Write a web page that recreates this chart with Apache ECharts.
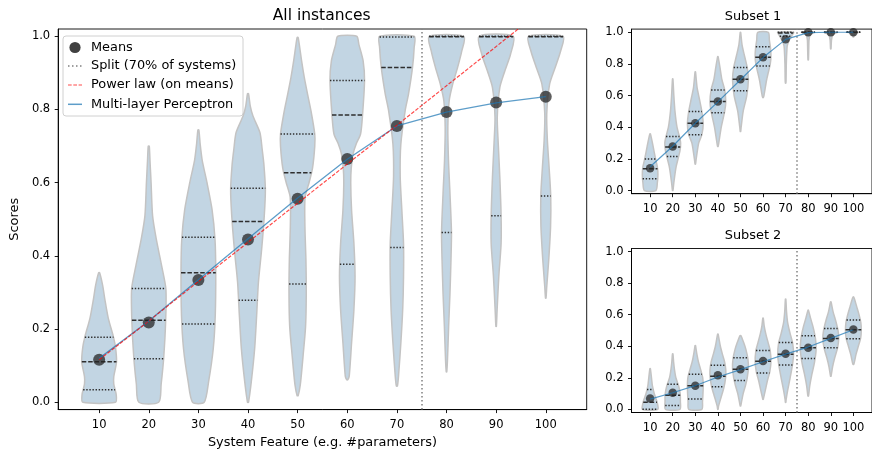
<!DOCTYPE html>
<html><head><meta charset="utf-8">
<script src="https://cdn.jsdelivr.net/npm/echarts@6/dist/echarts.min.js"></script>
<style>html,body{margin:0;padding:0;background:#fff}#c{width:872px;height:454px}</style>
</head><body><div id="c"></div>
<script>
// ---------- DATA ----------
const positions = [10, 20, 30, 40, 50, 60, 70, 80, 90, 100];
const yTicks = [0, 0.2, 0.4, 0.6, 0.8, 1.0];
const splitX = 75;
const legendNames = ['Means', 'Split (70% of systems)', 'Power law (on means)', 'Multi-layer Perceptron'];

const mainMeans = [0.116, 0.218, 0.334, 0.445, 0.556, 0.665, 0.755, 0.793, 0.819, 0.835];
const mainMLP = [0.12, 0.222, 0.335, 0.447, 0.558, 0.664, 0.755, 0.793, 0.818, 0.835];
const mainPowerLaw = [0.116, 0.222, 0.33, 0.437, 0.544, 0.651, 0.757, 0.865, 0.972, 1.08];
const mainQuartiles = [
  [0.034, 0.111, 0.178], [0.119, 0.224, 0.311], [0.214, 0.354, 0.451], [0.279, 0.494, 0.585],
  [0.323, 0.627, 0.733], [0.377, 0.785, 0.879], [0.423, 0.915, 0.998], [0.464, 0.999, 1.0],
  [0.51, 0.999, 1.0], [0.564, 0.999, 1.0]
];
// violin outlines: [score, half-width]
const mainViolins = [
  [[0,3.3],[0.02,3.45],[0.05,2.95],[0.07,2.95],[0.11,3.5],[0.15,3.3],[0.18,2.85],[0.23,1.84],[0.28,1.17],[0.32,0.7],[0.354,0.1]],
  [[0,2.0],[0.05,2.5],[0.12,3.0],[0.22,3.4],[0.31,3.45],[0.374,2.58],[0.447,1.5],[0.51,0.77],[0.6,0.47],[0.66,0.25],[0.70,0.1]],
  [[0,1.17],[0.057,2.07],[0.147,3.0],[0.237,3.4],[0.355,3.5],[0.445,3.35],[0.527,2.75],[0.60,1.74],[0.661,0.77],[0.707,0.35],[0.744,0.1]],
  [[0,0.1],[0.057,0.67],[0.147,1.34],[0.237,1.74],[0.328,2.1],[0.418,2.75],[0.51,3.28],[0.58,3.5],[0.65,3.2],[0.692,2.85],[0.737,2.4],[0.782,1.0],[0.81,0.45],[0.843,0.1]],
  [[0.018,0.1],[0.048,0.54],[0.13,1.12],[0.2075,1.6],[0.298,1.74],[0.389,1.67],[0.48,1.47],[0.56,1.5],[0.6,2.3],[0.64,3.0],[0.7,3.45],[0.733,3.45],[0.797,2.68],[0.842,2.0],[0.888,1.34],[0.933,0.8],[0.978,0.33],[0.997,0.1]],
  [[0.0615,0.1],[0.0715,0.4],[0.162,0.87],[0.253,1.34],[0.344,1.57],[0.434,1.34],[0.525,0.87],[0.6,0.7],[0.64,0.8],[0.679,1.17],[0.706,1.8],[0.733,2.68],[0.785,3.08],[0.879,3.48],[0.933,3.2],[0.978,2.34],[1.0,1.9]],
  [[0.044,0.1],[0.0715,0.33],[0.162,0.8],[0.253,1.17],[0.344,1.34],[0.434,1.34],[0.525,1.0],[0.616,0.67],[0.706,0.8],[0.797,1.67],[0.842,2.34],[0.915,3.15],[0.969,3.48],[1.0,3.48]],
  [[0.083,0.05],[0.117,0.2],[0.2075,0.43],[0.298,0.7],[0.389,0.9],[0.464,1.0],[0.57,0.7],[0.661,0.4],[0.752,0.27],[0.824,0.54],[0.869,1.24],[0.915,2.24],[0.96,3.08],[1.0,3.5]],
  [[0.2075,0.05],[0.253,0.2],[0.344,0.54],[0.434,1.0],[0.51,1.0],[0.616,0.74],[0.706,0.43],[0.779,0.23],[0.86,0.74],[0.906,1.77],[0.951,2.9],[1.0,3.45]],
  [[0.2846,0.05],[0.316,0.2],[0.389,0.6],[0.48,0.97],[0.564,1.0],[0.643,0.67],[0.715,0.33],[0.788,0.2],[0.869,0.77],[0.915,1.9],[0.96,3.0],[1.0,3.5]]
];

const sub1Means = [0.141, 0.278, 0.425, 0.562, 0.703, 0.842, 0.956, 1.0, 1.0, 1.0];
const sub1MLP = [0.15, 0.28, 0.425, 0.56, 0.70, 0.84, 0.955, 0.998, 1.0, 1.0];
const sub1Quartiles = [
  [0.074, 0.137, 0.2], [0.215, 0.275, 0.341], [0.352, 0.425, 0.499], [0.492, 0.562, 0.636],
  [0.631, 0.703, 0.777], [0.787, 0.842, 0.909], [0.975, 0.995, 1.0], [0.998, 1.0, 1.0],
  [0.999, 1.0, 1.0], [1.0, 1.0, 1.0]
];
const sub1Violins = [
  [[0,2.56],[0.05,3.2],[0.1,3.45],[0.15,3.2],[0.2,2.4],[0.28,1.3],[0.33,0.6],[0.358,0.1]],
  [[0,0.1],[0.05,0.5],[0.15,1.5],[0.25,3.2],[0.3,3.5],[0.34,3.0],[0.4,1.9],[0.5,1.0],[0.6,0.5],[0.705,0.1]],
  [[0.167,0.1],[0.2,0.4],[0.3,1.5],[0.352,2.9],[0.42,3.5],[0.5,2.9],[0.58,1.8],[0.65,0.8],[0.75,0.1]],
  [[0.278,0.1],[0.3,0.4],[0.4,1.5],[0.5,3.0],[0.56,3.5],[0.636,3.0],[0.7,1.8],[0.78,0.9],[0.846,0.1]],
  [[0.373,0.1],[0.4,0.3],[0.5,1.2],[0.6,2.8],[0.7,3.5],[0.777,3.0],[0.85,1.8],[0.92,0.7],[1.0,0.1]],
  [[0.587,0.1],[0.6,0.4],[0.7,1.6],[0.8,3.2],[0.85,3.5],[0.9,3.3],[0.95,2.8],[1.0,2.35]],
  [[0.678,0.1],[0.7,0.2],[0.8,0.3],[0.9,0.6],[0.92,0.8],[0.95,1.6],[0.98,2.8],[1.0,3.5]],
  [[0.825,0.1],[0.9,0.25],[0.95,0.35],[0.98,0.8],[0.995,2.0],[1.0,3.0]],
  [[0.895,0.1],[0.95,0.3],[0.98,0.8],[0.995,2.0],[1.0,3.0]],
  [[0.97,0.1],[0.99,0.8],[0.998,2.0],[1.0,3.0]]
];

const sub2Means = [0.069, 0.105, 0.149, 0.216, 0.254, 0.306, 0.352, 0.39, 0.453, 0.506];
const sub2MLP = [0.065, 0.105, 0.15, 0.205, 0.252, 0.302, 0.35, 0.395, 0.45, 0.505];
const sub2Quartiles = [
  [0.0, 0.045, 0.126], [0.025, 0.09, 0.159], [0.065, 0.15, 0.222], [0.143, 0.21, 0.279],
  [0.183, 0.255, 0.327], [0.231, 0.305, 0.373], [0.281, 0.35, 0.424], [0.323, 0.39, 0.466],
  [0.39, 0.45, 0.512], [0.447, 0.505, 0.566]
];
const sub2Violins = [
  [[0,3.4],[0.05,3.0],[0.1,1.8],[0.15,1.0],[0.2,0.6],[0.258,0.1]],
  [[0,3.2],[0.05,3.4],[0.1,3.3],[0.15,2.6],[0.2,1.4],[0.25,0.8],[0.3,0.4],[0.352,0.1]],
  [[0,2.9],[0.05,3.2],[0.1,3.4],[0.15,3.5],[0.2,3.3],[0.25,2.4],[0.3,1.4],[0.35,0.7],[0.405,0.1]],
  [[0,0.1],[0.02,0.3],[0.08,1.5],[0.14,2.7],[0.2,3.4],[0.25,3.5],[0.3,3.0],[0.35,2.0],[0.4,1.1],[0.478,0.1]],
  [[0.021,0.1],[0.05,0.5],[0.1,1.2],[0.15,2.2],[0.2,3.0],[0.26,3.5],[0.32,3.3],[0.38,2.4],[0.42,1.5],[0.468,0.2]],
  [[0.063,0.1],[0.07,0.2],[0.12,1.0],[0.18,1.9],[0.24,3.0],[0.3,3.5],[0.37,3.2],[0.42,2.3],[0.48,1.2],[0.53,0.5],[0.579,0.1]],
  [[0.044,0.1],[0.06,0.2],[0.12,0.9],[0.2,2.0],[0.28,3.0],[0.35,3.5],[0.42,3.1],[0.48,2.0],[0.55,0.9],[0.62,0.4],[0.699,0.1]],
  [[0.084,0.1],[0.09,0.2],[0.15,0.7],[0.22,1.6],[0.3,2.8],[0.38,3.5],[0.45,3.2],[0.52,2.2],[0.58,1.0],[0.629,0.1]],
  [[0.21,0.1],[0.27,0.8],[0.33,1.8],[0.39,3.0],[0.45,3.5],[0.5,3.2],[0.56,2.2],[0.62,1.0],[0.682,0.1]],
  [[0.285,0.1],[0.29,0.3],[0.35,1.2],[0.4,2.2],[0.45,3.2],[0.5,3.5],[0.55,3.3],[0.6,2.5],[0.65,1.5],[0.7,0.5],[0.713,0.1]]
];

// ---------- STYLE / BUILD ----------
const FONT = 'DejaVu Sans';
const VIOLIN_FILL = '#c2d5e3', VIOLIN_EDGE = '#c3c3c3';
const MEAN_COLOR = 'rgba(35,35,35,0.92)';
const MLP_COLOR = 'rgba(31,119,180,0.72)';
const PL_COLOR = 'rgba(255,0,0,0.7)';
const SPLIT_COLOR = '#808080';

function hwAt(prof, q) {
  if (q <= prof[0][0]) return prof[0][1];
  for (let k = 1; k < prof.length; k++) {
    if (q <= prof[k][0]) {
      const [v0, w0] = prof[k - 1], [v1, w1] = prof[k];
      return w0 + (w1 - w0) * (q - v0) / (v1 - v0);
    }
  }
  return prof[prof.length - 1][1];
}

function violinSeries(gi, profiles, quarts) {
  return {
    type: 'custom', xAxisIndex: gi, yAxisIndex: gi, silent: true, z: 2,
    data: positions.map(p => [p]),
    renderItem: (params, api) => {
      const i = params.dataIndex, x = api.value(0), prof = profiles[i];
      const pts = [];
      for (const [v, w] of prof) pts.push(api.coord([x + w, v]));
      for (let k = prof.length - 1; k >= 0; k--) pts.push(api.coord([x - prof[k][1], prof[k][0]]));
      const children = [{
        type: 'polygon', shape: { points: pts, smooth: 0.25 },
        style: { fill: VIOLIN_FILL, stroke: VIOLIN_EDGE, lineWidth: 1.5 }
      }];
      quarts[i].forEach((q, j) => {
        const w = hwAt(prof, q);
        const a = api.coord([x - w, q]), b = api.coord([x + w, q]);
        children.push({
          type: 'line', shape: { x1: a[0], y1: a[1], x2: b[0], y2: b[1] },
          style: { stroke: '#2e2e2e', lineWidth: 1.5, lineDash: j === 1 ? [4.5, 1.9] : [1.4, 1.7] }
        });
      });
      return { type: 'group', children };
    }
  };
}

function meansSeries(gi, vals, size) {
  return {
    type: 'scatter', xAxisIndex: gi, yAxisIndex: gi, z: 4, symbolSize: size, silent: true,
    itemStyle: { color: MEAN_COLOR },
    data: positions.map((p, i) => [p, vals[i]])
  };
}
function lineSeries(gi, vals, color, type, width, z, extra) {
  return Object.assign({
    type: 'line', xAxisIndex: gi, yAxisIndex: gi, z: z, showSymbol: false, symbol: 'none', silent: true,
    lineStyle: { color, width, type }, clip: true,
    data: positions.map((p, i) => [p, vals[i]])
  }, extra || {});
}
function splitMark() {
  return {
    silent: true, symbol: 'none', label: { show: false },
    lineStyle: { color: SPLIT_COLOR, width: 1.5, type: [1.5, 2.5] },
    data: [{ xAxis: splitX }]
  };
}

const grids = [
  { left: 56.7, top: 29, width: 530, height: 382.7 },
  { left: 631.5, top: 29.1, width: 243, height: 164.6 },
  { left: 631.5, top: 248.5, width: 243, height: 164 }
].map(g => Object.assign(g, { show: true, borderColor: '#000', borderWidth: 0.9, backgroundColor: 'transparent', containLabel: false }));

function xAx(gi, extra) {
  return Object.assign({
    type: 'value', gridIndex: gi, min: 1.75, max: 108.25,
    axisLine: { show: true, onZero: false, lineStyle: { color: '#000', width: 0.9 } },
    axisTick: { show: true, length: 3.5, customValues: positions, lineStyle: { color: '#000', width: 0.9 } },
    axisLabel: { customValues: positions, color: '#000', fontSize: 11.5, fontFamily: FONT, margin: 9.5 },
    splitLine: { show: false }
  }, extra || {});
}
function yAx(gi, extra) {
  return Object.assign({
    type: 'value', gridIndex: gi, min: -0.02, max: 1.02,
    axisLine: { show: true, onZero: false, lineStyle: { color: '#000', width: 0.9 } },
    axisTick: { show: true, length: 3.5, customValues: yTicks, lineStyle: { color: '#000', width: 0.9 } },
    axisLabel: { customValues: yTicks, color: '#000', fontSize: 11.5, fontFamily: FONT, margin: 8, formatter: v => v.toFixed(1) },
    splitLine: { show: false }
  }, extra || {});
}

const textStyle = (t, x, y, size, extra) => ({
  type: 'text', x, y, silent: true,
  style: Object.assign({ text: t, fill: '#000', font: size + 'px "' + FONT + '"', textAlign: 'center', textVerticalAlign: 'middle' }, extra || {})
});

const legendGraphics = {
  type: 'group', silent: true, z: 100,
  children: [
    { type: 'rect', shape: { x: 63, y: 36, width: 180, height: 80, r: 3 }, style: { fill: 'rgba(255,255,255,0.85)', stroke: '#d0d0d0', lineWidth: 1 } },
    { type: 'circle', shape: { cx: 75, cy: 47.5, r: 5.6 }, style: { fill: '#404040' } },
    { type: 'line', shape: { x1: 68, y1: 66, x2: 82, y2: 66 }, style: { stroke: SPLIT_COLOR, lineWidth: 1.5, lineDash: [1.5, 2.5] } },
    { type: 'line', shape: { x1: 68, y1: 85, x2: 82, y2: 85 }, style: { stroke: PL_COLOR, lineWidth: 1.2, lineDash: [3.7, 1.6] } },
    { type: 'line', shape: { x1: 68, y1: 104.3, x2: 82, y2: 104.3 }, style: { stroke: MLP_COLOR, lineWidth: 1.5 } },
    textStyle(legendNames[0], 91, 47.5, 12.9, { textAlign: 'left' }),
    textStyle(legendNames[1], 91, 66, 12.9, { textAlign: 'left' }),
    textStyle(legendNames[2], 91, 85, 12.9, { textAlign: 'left' }),
    textStyle(legendNames[3], 91, 104.3, 12.9, { textAlign: 'left' })
  ]
};

const option = {
  animation: false,
  backgroundColor: '#fff',
  grid: grids,
  xAxis: [
    xAx(0, { name: 'System Feature (e.g. #parameters)', nameLocation: 'middle', nameGap: 26, nameTextStyle: { fontSize: 12.9, fontFamily: FONT, color: '#000' } }),
    xAx(1), xAx(2)
  ],
  yAxis: [
    yAx(0, { name: 'Scores', nameLocation: 'middle', nameGap: 36, nameTextStyle: { fontSize: 12.9, fontFamily: FONT, color: '#000' } }),
    yAx(1), yAx(2)
  ],
  graphic: [
    textStyle('All instances', 321.7, 16, 15.5),
    textStyle('Subset 1', 753, 16.5, 12.9),
    textStyle('Subset 2', 753, 236, 12.9),
    legendGraphics
  ],
  series: [
    violinSeries(0, mainViolins, mainQuartiles),
    meansSeries(0, mainMeans, 12),
    lineSeries(0, mainMLP, MLP_COLOR, 'solid', 1.3, 6, { markLine: splitMark() }),
    lineSeries(0, mainPowerLaw, PL_COLOR, [3.7, 1.6], 1.2, 7),
    violinSeries(1, sub1Violins, sub1Quartiles),
    meansSeries(1, sub1Means, 8.5),
    lineSeries(1, sub1MLP, MLP_COLOR, 'solid', 1.2, 6, { markLine: splitMark() }),
    violinSeries(2, sub2Violins, sub2Quartiles),
    meansSeries(2, sub2Means, 8.5),
    lineSeries(2, sub2MLP, MLP_COLOR, 'solid', 1.2, 6, { markLine: splitMark() })
  ]
};

const chart = echarts.init(document.getElementById('c'), null, { renderer: 'canvas' });
chart.setOption(option);
</script>
</body></html>
